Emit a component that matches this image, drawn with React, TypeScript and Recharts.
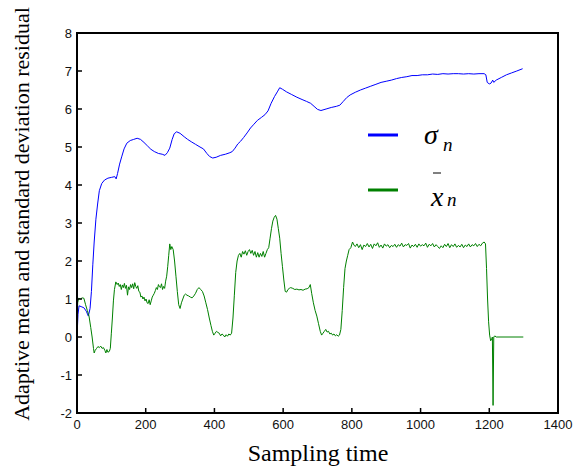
import React from 'react';
import { LineChart, Line, XAxis, YAxis, ReferenceArea } from 'recharts';

const xTicks = [0, 200, 400, 600, 800, 1000, 1200, 1400];
const yTicks = [-2, -1, 0, 1, 2, 3, 4, 5, 6, 7, 8];
const xDomain: [number, number] = [0, 1400];
const yDomain: [number, number] = [-2, 8];

// sigma_n : [sampling time, value]
const sigmaPoints: [number, number][] = [
  [0, 0], [3, 0.6], [6, 0.82], [12, 0.8], [20, 0.77], [27, 0.68], [33, 0.55], [38, 0.75], [42, 1.2], [46, 1.9],
  [50, 2.5], [55, 3.1], [60, 3.5], [65, 3.85], [72, 4.04], [80, 4.13], [90, 4.18], [100, 4.2], [110, 4.22], [114, 4.16],
  [118, 4.3], [124, 4.55], [130, 4.74], [137, 4.95], [145, 5.1], [155, 5.17], [165, 5.2], [175, 5.23], [185, 5.2], [195, 5.12],
  [205, 5.03], [215, 4.94], [225, 4.88], [237, 4.83], [248, 4.81], [256, 4.78], [263, 4.85], [270, 4.97], [277, 5.2], [283, 5.35],
  [290, 5.4], [300, 5.36], [312, 5.27], [322, 5.2], [334, 5.13], [345, 5.07], [358, 5.0], [368, 4.95], [378, 4.83], [386, 4.75],
  [395, 4.71], [405, 4.73], [418, 4.78], [432, 4.81], [445, 4.85], [452, 4.88], [460, 4.97], [468, 5.08], [476, 5.15], [485, 5.25],
  [495, 5.37], [505, 5.5], [515, 5.6], [525, 5.7], [537, 5.78], [547, 5.85], [556, 5.95], [565, 6.15], [575, 6.33], [583, 6.45],
  [590, 6.56], [598, 6.52], [610, 6.45], [625, 6.38], [640, 6.31], [655, 6.25], [668, 6.2], [680, 6.15], [690, 6.07], [700, 5.99],
  [710, 5.96], [725, 6.0], [740, 6.04], [755, 6.07], [765, 6.1], [775, 6.2], [785, 6.3], [795, 6.37], [810, 6.44], [825, 6.5],
  [840, 6.55], [855, 6.6], [870, 6.65], [885, 6.7], [900, 6.73], [915, 6.76], [930, 6.8], [945, 6.83], [960, 6.85], [975, 6.88],
  [990, 6.88], [1005, 6.9], [1020, 6.9], [1035, 6.92], [1050, 6.91], [1065, 6.93], [1080, 6.92], [1095, 6.93], [1110, 6.93], [1125, 6.92],
  [1140, 6.93], [1155, 6.92], [1170, 6.93], [1185, 6.93], [1190, 6.9], [1194, 6.7], [1200, 6.66], [1205, 6.68], [1210, 6.76], [1213, 6.7],
  [1220, 6.76], [1235, 6.83], [1250, 6.9], [1265, 6.95], [1280, 7.0], [1297, 7.06],
];

// mean x_n : [sampling time, value]
const meanPoints: [number, number][] = [
  [0, 0], [2, 0.9], [5, 1.02], [10, 1.0], [15, 1.03], [20, 1.02], [25, 0.85], [30, 0.7], [35, 0.55], [40, 0.25],
  [44, 0.0], [48, -0.3], [50, -0.42], [53, -0.35], [57, -0.3], [61, -0.25], [65, -0.28], [69, -0.24], [73, -0.3], [77, -0.28],
  [81, -0.35], [84, -0.42], [87, -0.33], [90, -0.4], [94, -0.38], [97, -0.3], [100, 0.1], [103, 0.5], [106, 0.95], [109, 1.25],
  [113, 1.45], [117, 1.38], [120, 1.42], [123, 1.33], [126, 1.38], [129, 1.25], [132, 1.37], [135, 1.3], [138, 1.41], [141, 1.28],
  [144, 1.36], [147, 1.1], [150, 1.32], [153, 1.25], [156, 1.38], [159, 1.3], [162, 1.4], [165, 1.27], [168, 1.43], [171, 1.33],
  [174, 1.28], [177, 1.35], [180, 1.2], [183, 1.18], [186, 1.05], [189, 1.08], [192, 1.0], [195, 1.05], [198, 0.95], [201, 1.0],
  [204, 0.9], [207, 0.88], [210, 0.98], [213, 0.85], [216, 0.95], [219, 1.05], [222, 1.1], [225, 1.15], [228, 1.22], [231, 1.3],
  [234, 1.25], [237, 1.38], [240, 1.32], [243, 1.3], [246, 1.4], [249, 1.25], [252, 1.33], [255, 1.28], [258, 1.47], [261, 1.6],
  [264, 1.85], [267, 2.15], [270, 2.45], [273, 2.3], [276, 2.38], [280, 2.3], [284, 2.0], [288, 1.6], [292, 1.2], [296, 0.85],
  [300, 0.75], [304, 0.9], [308, 1.0], [312, 1.1], [316, 1.13], [320, 1.1], [325, 1.08], [330, 1.05], [335, 1.03], [340, 1.08],
  [345, 1.15], [350, 1.25], [355, 1.3], [360, 1.25], [365, 1.2], [370, 1.08], [375, 0.9], [380, 0.72], [385, 0.5], [390, 0.3],
  [394, 0.15], [398, 0.05], [402, 0.1], [406, 0.15], [410, 0.12], [414, 0.1], [418, 0.03], [422, 0.08], [426, 0.05], [430, 0.0],
  [434, 0.06], [438, 0.02], [442, 0.08], [446, 0.05], [450, 0.1], [454, 0.5], [458, 1.1], [462, 1.7], [466, 2.0], [470, 2.15],
  [474, 2.2], [478, 2.1], [482, 2.25], [486, 2.18], [490, 2.27], [494, 2.15], [498, 2.25], [502, 2.3], [506, 2.2], [510, 2.28],
  [514, 2.15], [518, 2.25], [522, 2.1], [526, 2.22], [530, 2.1], [534, 2.2], [538, 2.12], [542, 2.25], [546, 2.1], [550, 2.2],
  [554, 2.3], [558, 2.35], [562, 2.6], [566, 2.85], [570, 3.05], [574, 3.15], [578, 3.2], [582, 3.1], [586, 2.85], [590, 2.6],
  [594, 2.2], [598, 1.85], [602, 1.5], [606, 1.2], [610, 1.18], [614, 1.25], [618, 1.28], [622, 1.3], [628, 1.28], [634, 1.25],
  [640, 1.26], [646, 1.24], [652, 1.25], [658, 1.23], [664, 1.26], [670, 1.27], [675, 1.3], [679, 1.38], [683, 1.15], [688, 0.9],
  [693, 0.7], [698, 0.55], [703, 0.35], [708, 0.15], [712, 0.05], [716, 0.1], [720, 0.15], [724, 0.2], [728, 0.13], [732, 0.15],
  [736, 0.08], [740, 0.1], [744, 0.05], [748, 0.08], [752, 0.03], [756, 0.06], [760, 0.02], [764, 0.05], [768, 0.2], [772, 0.7],
  [776, 1.3], [780, 1.8], [784, 2.0], [788, 2.15], [792, 2.3], [797, 2.35], [802, 2.5], [806, 2.42], [810, 2.38], [815, 2.45],
  [820, 2.35], [825, 2.43], [830, 2.3], [835, 2.42], [840, 2.38], [845, 2.46], [850, 2.37], [855, 2.44], [860, 2.33], [865, 2.45],
  [870, 2.4], [875, 2.48], [880, 2.36], [885, 2.42], [890, 2.34], [895, 2.45], [900, 2.39], [905, 2.43], [910, 2.35], [915, 2.41],
  [920, 2.38], [925, 2.44], [930, 2.36], [935, 2.43], [940, 2.39], [945, 2.47], [950, 2.37], [955, 2.43], [960, 2.41], [965, 2.46],
  [970, 2.34], [975, 2.42], [980, 2.38], [985, 2.44], [990, 2.36], [995, 2.45], [1000, 2.39], [1005, 2.43], [1010, 2.4], [1015, 2.47],
  [1020, 2.36], [1025, 2.44], [1030, 2.4], [1035, 2.46], [1040, 2.37], [1045, 2.43], [1050, 2.38], [1055, 2.33], [1060, 2.4], [1065, 2.35],
  [1070, 2.44], [1075, 2.38], [1080, 2.46], [1085, 2.35], [1090, 2.43], [1095, 2.38], [1100, 2.45], [1105, 2.36], [1110, 2.41], [1115, 2.37],
  [1120, 2.44], [1125, 2.35], [1130, 2.42], [1135, 2.38], [1140, 2.45], [1145, 2.37], [1150, 2.43], [1155, 2.4], [1160, 2.46], [1165, 2.38],
  [1170, 2.44], [1175, 2.4], [1180, 2.47], [1185, 2.5], [1189, 2.45], [1192, 1.8], [1195, 1.0], [1198, 0.4], [1201, 0.05], [1204, -0.1],
  [1207, -0.05], [1209, 0.0], [1211, -1.8], [1213, 0.0], [1216, 0.03], [1220, 0.0], [1299, 0.0],
];

const sigmaData = sigmaPoints.map(([t, v]) => ({ t, v }));
const meanData = meanPoints.map(([t, v]) => ({ t, v }));

const SANS = "'Liberation Sans'";
const SERIF = "'Liberation Serif'";
const TICK_LEN = 5;
const FRAME = '#000000';

const BottomTick = (props: any) => {
  const { x, y, payload } = props;
  return (
    <g>
      <line x1={x} y1={y} x2={x} y2={y - TICK_LEN} stroke={FRAME} strokeWidth={1.5} />
      <text x={x} y={y + 16} textAnchor="middle" style={{ fontFamily: SANS, fontSize: 13, fill: '#111' }}>
        {payload.value}
      </text>
    </g>
  );
};

const LeftTick = (props: any) => {
  const { x, y, payload } = props;
  return (
    <g>
      <line x1={x} y1={y} x2={x + TICK_LEN} y2={y} stroke={FRAME} strokeWidth={1.5} />
      <text x={x - 5} y={y + 4.5} textAnchor="end" style={{ fontFamily: SANS, fontSize: 13, fill: '#111' }}>
        {payload.value}
      </text>
    </g>
  );
};

const TopTick = (props: any) => {
  const { x, y } = props;
  return <line x1={x} y1={y} x2={x} y2={y + TICK_LEN} stroke={FRAME} strokeWidth={1.5} />;
};

const RightTick = (props: any) => {
  const { x, y } = props;
  return <line x1={x} y1={y} x2={x - TICK_LEN} y2={y} stroke={FRAME} strokeWidth={1.5} />;
};

export default function App() {
  return (
    <div style={{ position: 'absolute', left: 0, top: 0, width: 577, height: 472, background: '#fff' }}>
      <LineChart width={577} height={472} margin={{ top: 32, right: 18, bottom: 29, left: 17 }}>
        <text
          x={29}
          y={214}
          transform="rotate(-90, 29, 214)"
          textAnchor="middle"
          style={{ fontFamily: SERIF, fontSize: 22, fill: '#000' }}
        >
          Adaptive mean and standard deviation residual
        </text>
        <text x={318} y={461} textAnchor="middle" style={{ fontFamily: SERIF, fontSize: 24, fill: '#000' }}>
          Sampling time
        </text>
        <g>
          <line x1={368} y1={135} x2={398} y2={135} stroke="#0000ff" strokeWidth={3} />
          <text x={424} y={144} style={{ fontFamily: SERIF, fontStyle: 'italic', fontSize: 28, fill: '#000' }}>σ</text>
          <text x={443} y={151} style={{ fontFamily: SERIF, fontStyle: 'italic', fontSize: 19, fill: '#000' }}>n</text>
          <line x1={368} y1={190} x2={398} y2={190} stroke="#008000" strokeWidth={3} />
          <text x={431} y={206} style={{ fontFamily: SERIF, fontStyle: 'italic', fontSize: 28, fill: '#000' }}>x</text>
          <line x1={433} y1={173} x2={441} y2={173} stroke="#000" strokeWidth={1} />
          <text x={447} y={206} style={{ fontFamily: SERIF, fontStyle: 'italic', fontSize: 19, fill: '#000' }}>n</text>
        </g>
        <XAxis
          dataKey="t"
          type="number"
          domain={xDomain}
          ticks={xTicks}
          height={30}
          tickSize={0}
          tickMargin={0}
          tick={<BottomTick />}
          axisLine={{ stroke: FRAME, strokeWidth: 2 }}
        />
        <XAxis
          xAxisId="top"
          orientation="top"
          dataKey="t"
          type="number"
          domain={xDomain}
          ticks={xTicks}
          height={1}
          tickSize={0}
          tickMargin={0}
          tick={<TopTick />}
          axisLine={{ stroke: FRAME, strokeWidth: 2 }}
        />
        <YAxis
          type="number"
          domain={yDomain}
          ticks={yTicks}
          width={60}
          tickSize={0}
          tickMargin={0}
          tick={<LeftTick />}
          axisLine={{ stroke: FRAME, strokeWidth: 2 }}
        />
        <YAxis
          yAxisId="right"
          orientation="right"
          type="number"
          domain={yDomain}
          ticks={yTicks}
          width={1}
          tickSize={0}
          tickMargin={0}
          tick={<RightTick />}
          axisLine={{ stroke: FRAME, strokeWidth: 2 }}
        />
        <ReferenceArea
          x1={xDomain[0]}
          x2={xDomain[1]}
          y1={yDomain[0]}
          y2={yDomain[1]}
          fill="none"
          fillOpacity={0}
          stroke={FRAME}
          strokeWidth={2}
          ifOverflow="extendDomain"
        />
        <Line
          data={sigmaData}
          dataKey="v"
          name="σn"
          type="linear"
          stroke="#0000ff"
          strokeWidth={1}
          dot={false}
          isAnimationActive={false}
        />
        <Line
          data={meanData}
          dataKey="v"
          name="xn"
          type="linear"
          stroke="#008000"
          strokeWidth={1}
          dot={false}
          isAnimationActive={false}
        />
      </LineChart>
    </div>
  );
}
